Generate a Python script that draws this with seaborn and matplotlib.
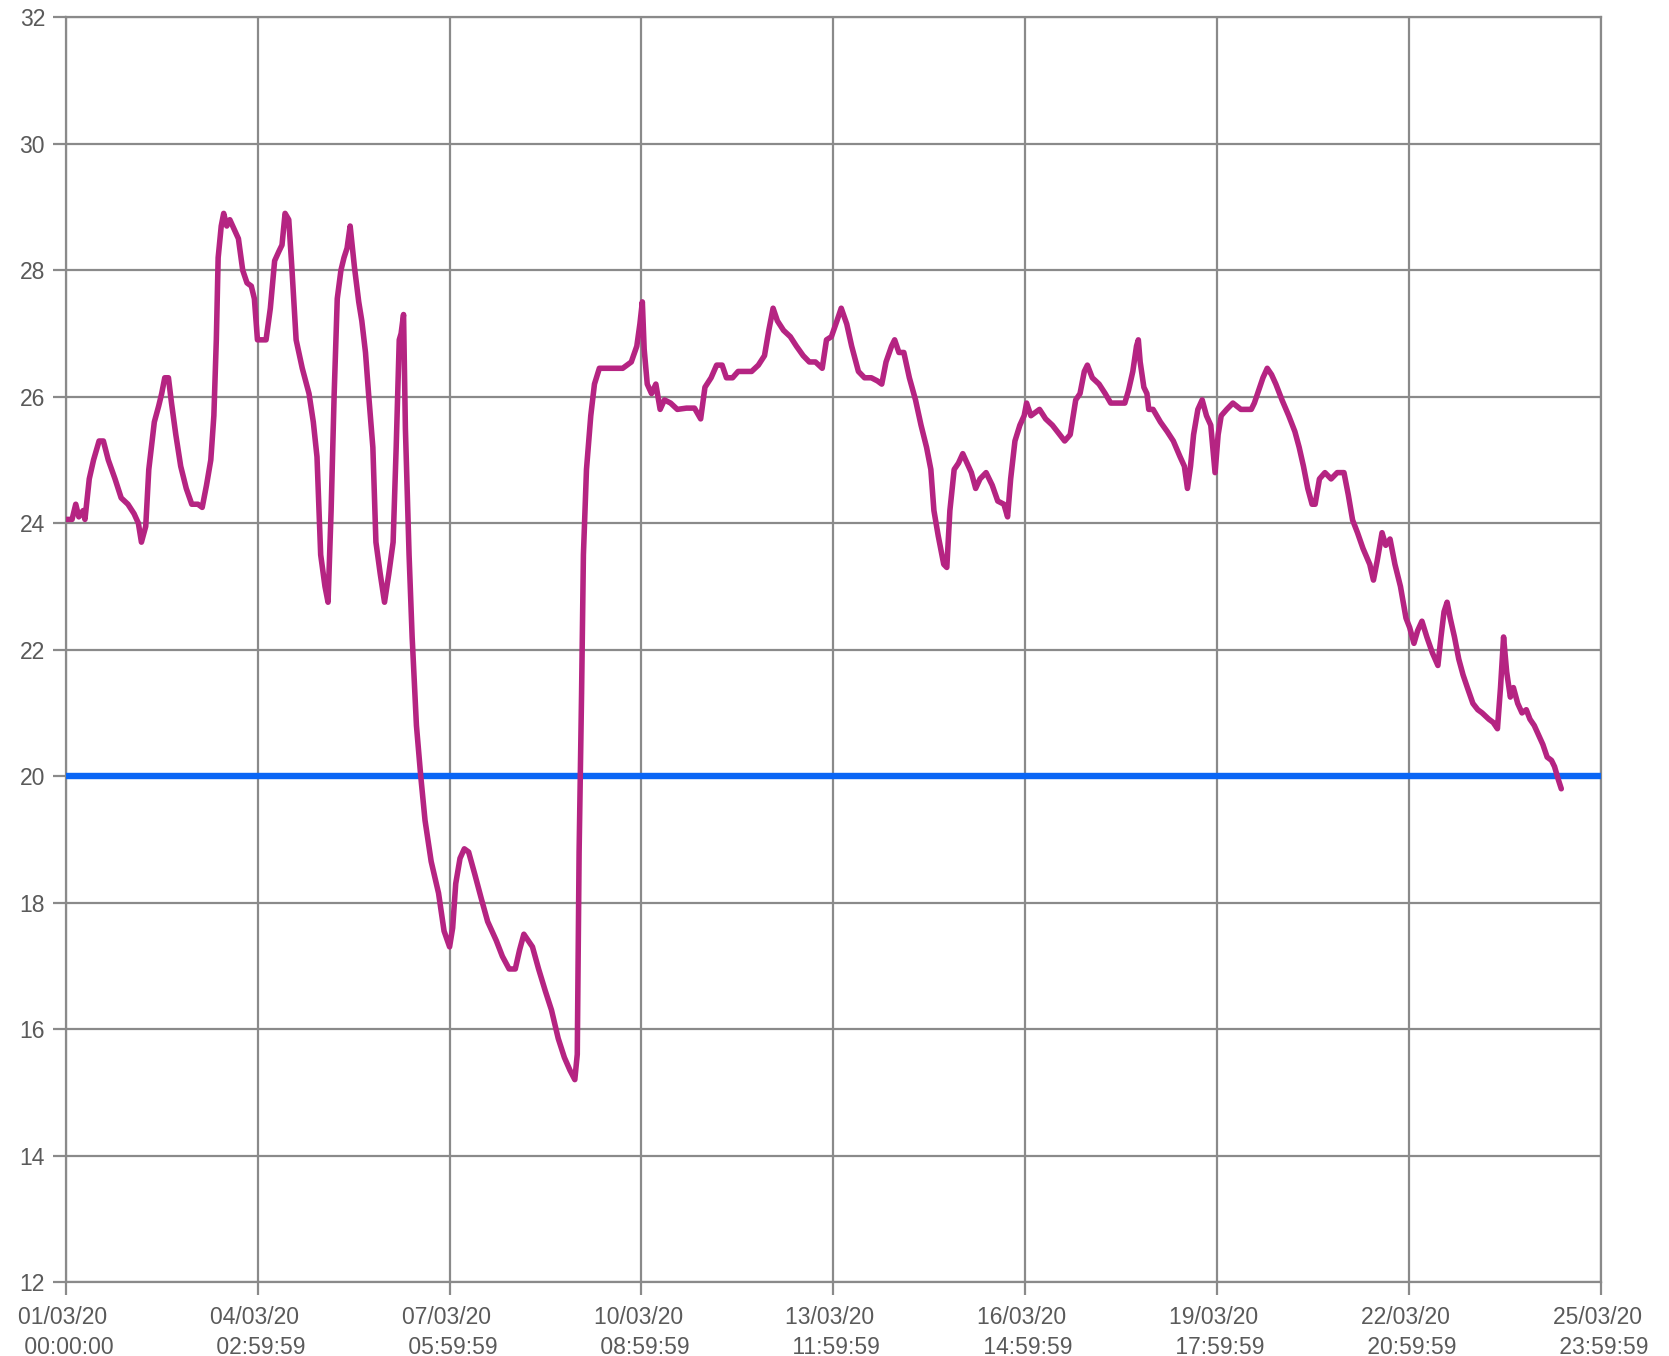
import numpy as np
import pandas as pd
import matplotlib
matplotlib.use("Agg")
import matplotlib.pyplot as plt
import matplotlib.dates as mdates
import seaborn as sns

# time axis: 01/03/20 00:00:00 .. 25/03/20 23:59:59, days since start
start = pd.Timestamp("2020-03-01 00:00:00")
end = pd.Timestamp("2020-03-25 23:59:59")

day_offset = [
    0.00, 0.10, 0.16, 0.21, 0.28, 0.31, 0.38, 0.45, 0.54, 0.61, 0.69, 0.80, 0.90, 1.01,
    1.11, 1.18, 1.23, 1.30, 1.35, 1.44, 1.51, 1.56, 1.61, 1.67, 1.72, 1.79, 1.87, 1.96,
    2.05, 2.15, 2.22, 2.29, 2.36, 2.41, 2.45, 2.48, 2.53, 2.57, 2.62, 2.67, 2.74, 2.81,
    2.88, 2.95, 3.02, 3.07, 3.12, 3.19, 3.26, 3.33, 3.40, 3.47, 3.52, 3.57, 3.63, 3.68,
    3.75, 3.85, 3.96, 4.03, 4.09, 4.15, 4.22, 4.27, 4.32, 4.37, 4.42, 4.48, 4.53, 4.58,
    4.63, 4.70, 4.77, 4.82, 4.88, 4.93, 5.00, 5.05, 5.12, 5.19, 5.26, 5.33, 5.38, 5.43,
    5.46, 5.50, 5.53, 5.59, 5.64, 5.71, 5.78, 5.85, 5.95, 6.07, 6.16, 6.25, 6.30, 6.35,
    6.42, 6.49, 6.56, 6.66, 6.77, 6.87, 7.01, 7.11, 7.22, 7.32, 7.39, 7.46, 7.53, 7.60,
    7.70, 7.81, 7.91, 8.02, 8.12, 8.21, 8.29, 8.33, 8.36, 8.40, 8.43, 8.48, 8.55, 8.61,
    8.69, 8.78, 8.90, 9.07, 9.21, 9.30, 9.35, 9.39, 9.42, 9.47, 9.54, 9.61, 9.68, 9.75,
    9.85, 9.96, 10.11, 10.24, 10.34, 10.41, 10.51, 10.60, 10.69, 10.76, 10.86, 10.95,
    11.07, 11.17, 11.28, 11.38, 11.45, 11.52, 11.59, 11.69, 11.80, 11.90, 12.01, 12.11,
    12.21, 12.32, 12.39, 12.47, 12.56, 12.63, 12.72, 12.80, 12.91, 13.01, 13.12, 13.22,
    13.29, 13.36, 13.45, 13.50, 13.57, 13.65, 13.74, 13.84, 13.93, 14.02, 14.09, 14.14,
    14.21, 14.30, 14.35, 14.40, 14.47, 14.54, 14.61, 14.68, 14.75, 14.82, 14.89, 14.99,
    15.09, 15.18, 15.28, 15.34, 15.39, 15.46, 15.54, 15.61, 15.65, 15.72, 15.79, 15.86,
    15.96, 16.07, 16.19, 16.27, 16.36, 16.45, 16.52, 16.59, 16.64, 16.72, 16.83, 16.93,
    17.02, 17.14, 17.25, 17.31, 17.38, 17.44, 17.47, 17.50, 17.56, 17.61, 17.64, 17.71,
    17.83, 17.94, 18.04, 18.15, 18.22, 18.27, 18.32, 18.37, 18.44, 18.51, 18.58, 18.65,
    18.72, 18.77, 18.82, 18.91, 19.01, 19.14, 19.22, 19.31, 19.36, 19.43, 19.50, 19.57,
    19.64, 19.71, 19.81, 19.92, 20.02, 20.09, 20.16, 20.23, 20.30, 20.35, 20.42, 20.51,
    20.61, 20.71, 20.82, 20.89, 20.96, 21.04, 21.13, 21.24, 21.30, 21.36, 21.44, 21.50,
    21.57, 21.65, 21.74, 21.83, 21.89, 21.96, 22.02, 22.09, 22.17, 22.26, 22.35, 22.40,
    22.45, 22.50, 22.55, 22.62, 22.69, 22.76, 22.83, 22.92, 23.00, 23.07, 23.18, 23.25,
    23.32, 23.37, 23.42, 23.47, 23.53, 23.58, 23.65, 23.72, 23.79, 23.85, 23.92, 23.99,
    24.06, 24.13, 24.20, 24.25, 24.31, 24.36,
]

temperature = [
    24.06, 24.06, 24.3, 24.1, 24.2, 24.06, 24.7, 25.0, 25.3, 25.3, 25.0, 24.7, 24.4, 24.3,
    24.15, 24.0, 23.7, 23.95, 24.85, 25.6, 25.85, 26.05, 26.3, 26.3, 25.9, 25.4, 24.9, 24.55,
    24.3, 24.3, 24.25, 24.6, 25.0, 25.7, 26.9, 28.2, 28.7, 28.9, 28.7, 28.8, 28.65, 28.5,
    28.0, 27.8, 27.75, 27.55, 26.9, 26.9, 26.9, 27.4, 28.15, 28.3, 28.4, 28.9, 28.8, 28.05,
    26.9, 26.45, 26.05, 25.6, 25.05, 23.5, 23.0, 22.75, 24.2, 26.05, 27.55, 28.0, 28.2, 28.35,
    28.7, 28.05, 27.5, 27.2, 26.7, 26.05, 25.2, 23.7, 23.2, 22.75, 23.2, 23.7, 25.2, 26.9,
    27.0, 27.3, 25.5, 23.5, 22.2, 20.8, 20.0, 19.3, 18.65, 18.15, 17.55, 17.3, 17.6, 18.3,
    18.7, 18.85, 18.8, 18.45, 18.05, 17.7, 17.4, 17.15, 16.95, 16.95, 17.25, 17.5, 17.4, 17.3,
    16.95, 16.6, 16.3, 15.85, 15.55, 15.35, 15.2, 15.6, 18.8, 21.3, 23.5, 24.85, 25.7, 26.2,
    26.45, 26.45, 26.45, 26.45, 26.55, 26.8, 27.15, 27.5, 26.75, 26.2, 26.05, 26.2, 25.8, 25.95,
    25.9, 25.8, 25.82, 25.82, 25.65, 26.15, 26.3, 26.5, 26.5, 26.3, 26.3, 26.4,
    26.4, 26.4, 26.5, 26.65, 27.05, 27.4, 27.2, 27.05, 26.95, 26.8, 26.65, 26.55,
    26.55, 26.45, 26.9, 26.95, 27.2, 27.4, 27.15, 26.8, 26.4, 26.3, 26.3, 26.25,
    26.2, 26.55, 26.8, 26.9, 26.7, 26.7, 26.3, 25.95, 25.55, 25.2, 24.85, 24.2,
    23.8, 23.35, 23.3, 24.2, 24.85, 24.95, 25.1, 24.95, 24.8, 24.55, 24.7, 24.8,
    24.6, 24.35, 24.3, 24.1, 24.7, 25.3, 25.55, 25.7, 25.9, 25.7, 25.75, 25.8,
    25.65, 25.55, 25.4, 25.3, 25.4, 25.95, 26.05, 26.4, 26.5, 26.3, 26.2, 26.05,
    25.9, 25.9, 25.9, 26.1, 26.4, 26.8, 26.9, 26.55, 26.15, 26.05, 25.8, 25.8,
    25.6, 25.45, 25.3, 25.05, 24.9, 24.55, 24.9, 25.4, 25.8, 25.95, 25.7, 25.55,
    24.8, 25.4, 25.7, 25.8, 25.9, 25.8, 25.8, 25.8, 25.9, 26.1, 26.3, 26.45,
    26.35, 26.2, 25.95, 25.7, 25.45, 25.2, 24.9, 24.55, 24.3, 24.3, 24.7, 24.8,
    24.7, 24.8, 24.8, 24.45, 24.05, 23.85, 23.6, 23.35, 23.1, 23.4, 23.85, 23.65,
    23.75, 23.35, 23.0, 22.5, 22.35, 22.1, 22.3, 22.45, 22.2, 21.95, 21.75, 22.2,
    22.6, 22.75, 22.5, 22.2, 21.85, 21.6, 21.4, 21.15, 21.05, 21.0, 20.9, 20.85,
    20.75, 21.4, 22.2, 21.65, 21.25, 21.4, 21.15, 21.0, 21.05, 20.9, 20.8, 20.65,
    20.5, 20.3, 20.25, 20.15, 19.95, 19.8,
]

threshold = 20
y_ticks = list(range(12, 33, 2))

df = pd.DataFrame({
    "time": start + pd.to_timedelta(day_offset, unit="D"),
    "temp": temperature,
})

sns.set_style("white")
plt.rcParams["font.family"] = ["Liberation Sans", "DejaVu Sans"]

grid_col = "#8a8a8a"
text_col = "#5a5a5a"

fig = plt.figure(figsize=(16.69, 13.56), dpi=100)
ax = fig.add_axes([0.0395, 0.0546, 0.9195, 0.9326])

ax.axhline(threshold, color="#0a66f5", lw=4.6, zorder=3)
sns.lineplot(data=df, x="time", y="temp", ax=ax, color="#b52482", lw=4.0, zorder=4)

ax.set_xlim(start, end)
ax.set_ylim(12, 32)
ax.set_yticks(y_ticks)

x_ticks = pd.date_range(start, end, periods=9)
ax.set_xticks(mdates.date2num(x_ticks.to_pydatetime()))
ax.set_xticklabels([t.strftime("%d/%m/%y \n %H:%M:%S") for t in x_ticks])
for lbl in ax.get_xticklabels():
    lbl.set_linespacing(1.4)

ax.grid(True, color=grid_col, lw=1.6)
for s in ax.spines.values():
    s.set_color(grid_col)
    s.set_linewidth(1.6)

ax.tick_params(axis="both", bottom=True, left=True, direction="out",
               colors=grid_col, length=9.5, width=1.6,
               labelsize=16.5, labelcolor=text_col)
ax.tick_params(axis="y", pad=5.5)
ax.tick_params(axis="x", pad=7.5)
ax.set_xlabel("")
ax.set_ylabel("")

plt.savefig("out.png", dpi=100)
